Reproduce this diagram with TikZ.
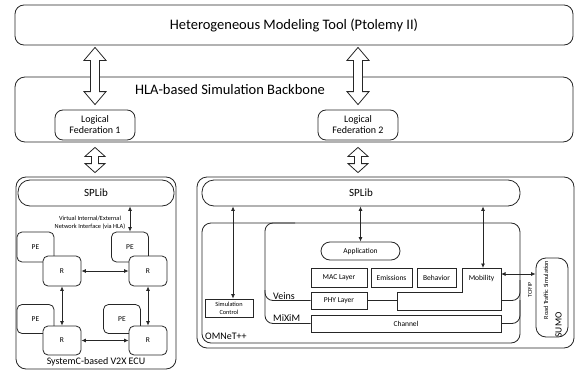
\documentclass[tikz,border=0pt]{standalone}
\usepackage{fontspec}
\setmainfont{Carlito}
\usetikzlibrary{arrows.meta,calc}
\tikzset{
  ln/.style={line width=0.8pt, draw=black!85},
  rbox/.style={ln, rounded corners=#1, inner sep=0pt, fill=white},
  rbox/.default=8pt,
  sbox/.style={ln, inner sep=0pt, fill=white},
  biarr/.style={ln, {Latex[length=4.5pt,width=4pt]}-{Latex[length=4.5pt,width=4pt]}},
  dblarr/.style={ln, fill=white, line join=miter},
  fbig/.style={font=\fontsize{14.5}{17}\selectfont},
  flab/.style={font=\fontsize{10}{12}\selectfont},
  fsp/.style={font=\fontsize{11}{13}\selectfont},
  fmed/.style={font=\fontsize{10}{12}\selectfont},
  fsm/.style={font=\fontsize{7.5}{9}\selectfont},
  fxs/.style={font=\fontsize{6.3}{8}\selectfont},
}
\newcommand\dblarrow[5]{%
  \draw[dblarr] let \p1=#1, \p2=#2 in
  (\x1,\y1) -- (\x1+#3,\y1-#4) -- (\x1+#5,\y1-#4) -- (\x2+#5,\y2+#4) --
  (\x2+#3,\y2+#4) -- (\x2,\y2) -- (\x2-#3,\y2+#4) -- (\x2-#5,\y2+#4) --
  (\x1-#5,\y1-#4) -- (\x1-#3,\y1-#4) -- cycle;}
\begin{document}
\begin{tikzpicture}[x=1pt,y=-1pt]
\useasboundingbox (0,0) rectangle (576,372);
% top level
\node[rbox=9pt, minimum width=558pt, minimum height=40pt, fbig] (top) at (294,25) {Heterogeneous Modeling Tool (Ptolemy II)};
\node[rbox=10pt, minimum width=558pt, minimum height=65pt] (hla) at (294,109.5) {};
\node[fbig, inner sep=0pt] (hlat) at (230,90) {HLA-based Simulation Backbone};
\node[rbox=8pt, minimum width=80pt, minimum height=30pt, flab, align=center] (fed1) at (95,125) {Logical\\[-1pt]Federation 1};
\node[rbox=8pt, minimum width=80pt, minimum height=30pt, flab, align=center] (fed2) at (358,125) {Logical\\[-1pt]Federation 2};
\dblarrow{($(top.south -| fed1)+(0,2)$)}{($(fed1.north)+(0,-5)$)}{11pt}{13pt}{4.5pt}
\dblarrow{($(top.south -| fed2)+(0,2)$)}{($(fed2.north)+(0,-5)$)}{11pt}{13pt}{4.5pt}
% left ECU
\node[rbox=10pt, minimum width=160pt, minimum height=192pt] (ecu) at (96,273) {};
\node[rbox=12pt, minimum width=156pt, minimum height=26pt, fsp] (splibL) at (96,193) {SPLib};
\dblarrow{($(hla.south -| fed1)+(0,5)$)}{($(ecu.north -| fed1)+(0,-4)$)}{10pt}{9pt}{3.5pt}
\node[fmed] (ecut) at (96,362) {SystemC-based V2X ECU};
\node[rbox=5pt, minimum width=37pt, minimum height=30pt, fsm] (peTL) at (35.5,247) {PE};
\node[rbox=5pt, minimum width=37pt, minimum height=30pt, fsm] (peTR) at (130,247) {PE};
\node[rbox=5pt, minimum width=37pt, minimum height=29pt, fsm] (peBL) at (35.5,319) {PE};
\node[rbox=5pt, minimum width=37pt, minimum height=29pt, fsm] (peBR) at (122,319) {PE};
\node[rbox=5pt, minimum width=38pt, minimum height=30pt, fsm] (rTL) at (62,271) {R};
\node[rbox=5pt, minimum width=38pt, minimum height=30pt, fsm] (rTR) at (148,271) {R};
\node[rbox=5pt, minimum width=38pt, minimum height=29pt, fsm] (rBL) at (62,340.5) {R};
\node[rbox=5pt, minimum width=38pt, minimum height=29pt, fsm] (rBR) at (148,340.5) {R};
\draw[biarr] (rTL.east) -- (rTR.west);
\draw[biarr] (rBL.east) -- (rBR.west);
\draw[biarr] (rTL.south) -- (rBL.north);
\draw[biarr] (rTR.south) -- (rBR.north);
\draw[biarr] (splibL.south -| peTR) -- (peTR.north);
\node[fxs, align=center, inner sep=0pt] (vnote) at (90,223) {Virtual Internal/External\\Network Interface (via HLA)};
% right side
\node[rbox=10pt, minimum width=377pt, minimum height=171pt] (outer) at (385.5,262.5) {};
\dblarrow{($(hla.south -| fed2)+(0,5)$)}{($(outer.north -| fed2)+(0,-4)$)}{10pt}{9pt}{3.5pt}
\node[rbox=12pt, minimum width=318pt, minimum height=26pt, fsp] (splibR) at (361,193) {SPLib};
\node[rbox=9pt, minimum width=318pt, minimum height=120pt] (omnet) at (361,283) {};
\node[fmed, anchor=west, inner sep=0pt] (omt) at (205,336) {OMNeT++};
% Veins and MiXiM outlines
\node[sbox, minimum width=56pt, minimum height=17pt, fsm] (phy) at (339,300.5) {PHY Layer};
\node[sbox, minimum width=190pt, minimum height=17pt, fsm] (chan) at (406,323.5) {Channel};
\draw[ln, rounded corners=8pt] (phy.west) -- (265,300.5) -- (265,223) -- (295,223);
\draw[ln, rounded corners=8pt] (chan.west) -- (265,323.5) -- (265,290);
\draw[ln, rounded corners=8pt] (501,300.5) -- (520,300.5) -- (520,280);
\draw[ln, rounded corners=8pt] (chan.east) -- (520,323.5) -- (520,300);
\node[fmed, inner sep=0pt, anchor=base west] (veins) at (273,299) {Veins};
\node[fmed, inner sep=0pt, anchor=base west] (mixim) at (273,321) {MiXiM};
\node[sbox, minimum width=48pt, minimum height=18pt, fxs, align=center] (simctl) at (229,308) {Simulation\\Control};
\node[rbox=9pt, minimum width=79pt, minimum height=18pt, fsm] (app) at (360.5,251) {Application};
\node[sbox, minimum width=56pt, minimum height=19pt, fsm] (mac) at (339,277.5) {MAC Layer};
\node[sbox, minimum width=41pt, minimum height=19pt, fsm] (emis) at (391.5,277.5) {Emissions};
\node[sbox, minimum width=39pt, minimum height=19pt, fsm] (behav) at (436.5,277.5) {Behavior};
\draw[ln, fill=white] (462,268) -- (501,268) -- (501,310) -- (397,310) -- (397,292) -- (462,292) -- cycle;
\node[fsm, inner sep=0pt] (mob) at (481.5,278) {Mobility};
\coordinate (mobtop) at (483,268);
\coordinate (mobright) at (501,274);
\coordinate (mobleft) at (397,300.5);
\draw[ln] (phy.east) -- (mobleft);
\node[rbox=10pt, minimum width=32pt, minimum height=79pt] (sumo) at (552,297.5) {};
\node[fxs, rotate=90, inner sep=0pt] (rts) at (546,290) {Road Traffic Simulation};
\node[font=\fontsize{9.5}{11}\selectfont, rotate=90, inner sep=0pt] (sumot) at (558.5,325) {SUMO};
\node[font=\fontsize{5.8}{7}\selectfont, rotate=90, inner sep=0pt] (tcp) at (530,290) {TCP/IP};
\draw[biarr] (mobright) -- (sumo.west |- mobright);
\draw[biarr] (splibR.south -| mobtop) -- (mobtop);
\draw[biarr] (splibR.south -| app) -- (app.north);
\draw[biarr] ([xshift=4pt]splibR.south -| simctl) -- ([xshift=4pt]simctl.north);
\end{tikzpicture}
\end{document}
